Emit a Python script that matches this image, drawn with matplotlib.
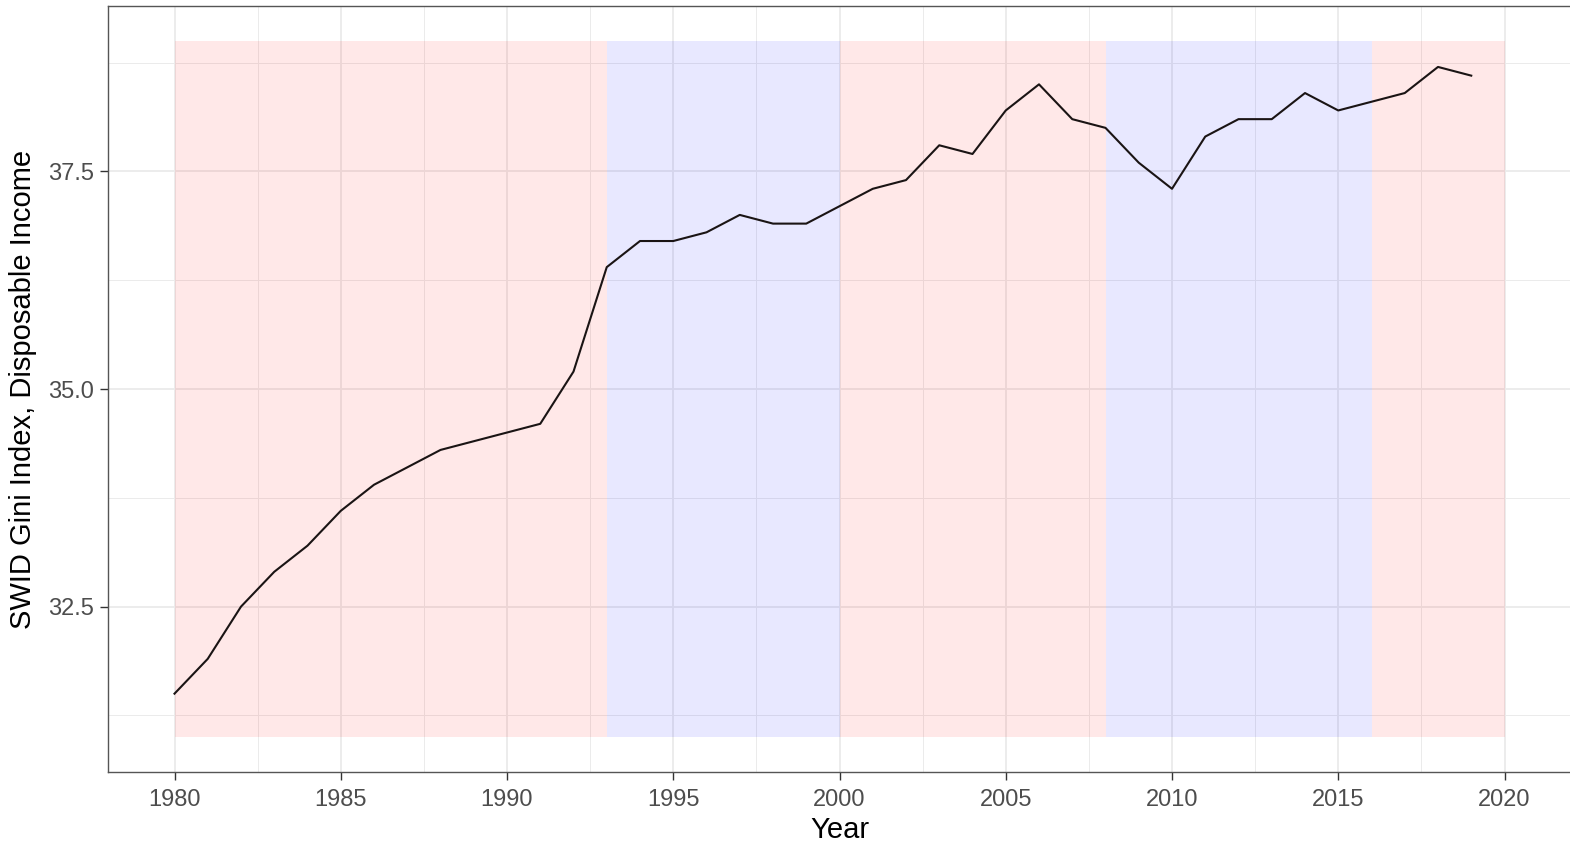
import matplotlib
matplotlib.use("Agg")
import matplotlib.pyplot as plt
from matplotlib.ticker import MultipleLocator

years = list(range(1980, 2020))
gini = [31.5, 31.9, 32.5, 32.9, 33.2, 33.6, 33.9, 34.1, 34.3, 34.4,
        34.5, 34.6, 35.2, 36.4, 36.7, 36.7, 36.8, 37.0, 36.9, 36.9,
        37.1, 37.3, 37.4, 37.8, 37.7, 38.2, 38.5, 38.1, 38.0, 37.6,
        37.3, 37.9, 38.1, 38.1, 38.4, 38.2, 38.3, 38.4, 38.7, 38.6]

period_start = [1980, 1993, 2000, 2008, 2016]
period_end = [1993, 2000, 2008, 2016, 2020]
period_party = ["R", "D", "R", "D", "R"]
shade_ymin, shade_ymax = 31, 39

x_ticks = [1980, 1985, 1990, 1995, 2000, 2005, 2010, 2015, 2020]
y_ticks = [32.5, 35.0, 37.5]

plt.rcParams['font.family'] = ['Liberation Sans', 'DejaVu Sans']

W, H = 1570, 842
fig = plt.figure(figsize=(W / 100, H / 100), dpi=100)
ax = fig.add_axes([108 / W, (H - 772) / H, (1571 - 108) / W, (772 - 6) / H])

party_color = {"R": "red", "D": "blue"}
for s, e, p in zip(period_start, period_end, period_party):
    ax.fill_between([s, e], shade_ymin, shade_ymax, color=party_color[p],
                    alpha=0.09, linewidth=0, zorder=2)

ax.plot(years, gini, color="#1a1414", linewidth=1.5, zorder=3)

ax.set_xlim(1978, 2022)
ax.set_ylim(30.6, 39.4)
ax.set_xticks(x_ticks)
ax.set_yticks(y_ticks)
ax.set_yticklabels([f"{v:.1f}" for v in y_ticks])
ax.xaxis.set_minor_locator(MultipleLocator(2.5))
ax.yaxis.set_minor_locator(MultipleLocator(1.25))

ax.grid(which="major", color="#EBEBEB", linewidth=1.3, zorder=1)
ax.grid(which="minor", color="#EBEBEB", linewidth=0.7, zorder=1)
ax.set_axisbelow(True)

for sp in ax.spines.values():
    sp.set_color("#555555")
    sp.set_linewidth(1.0)

ax.tick_params(which="major", length=6, width=1.0, color="#333333",
               labelsize=17, labelcolor="#4D4D4D", pad=4)
ax.tick_params(axis="x", which="major", pad=6)
ax.tick_params(which="minor", length=0)

ax.set_xlabel("Year", fontsize=21, color="black", labelpad=4)
ax.set_ylabel("SWID Gini Index, Disposable Income", fontsize=21,
              color="black", labelpad=8)

fig.savefig("out.png", dpi=100)
